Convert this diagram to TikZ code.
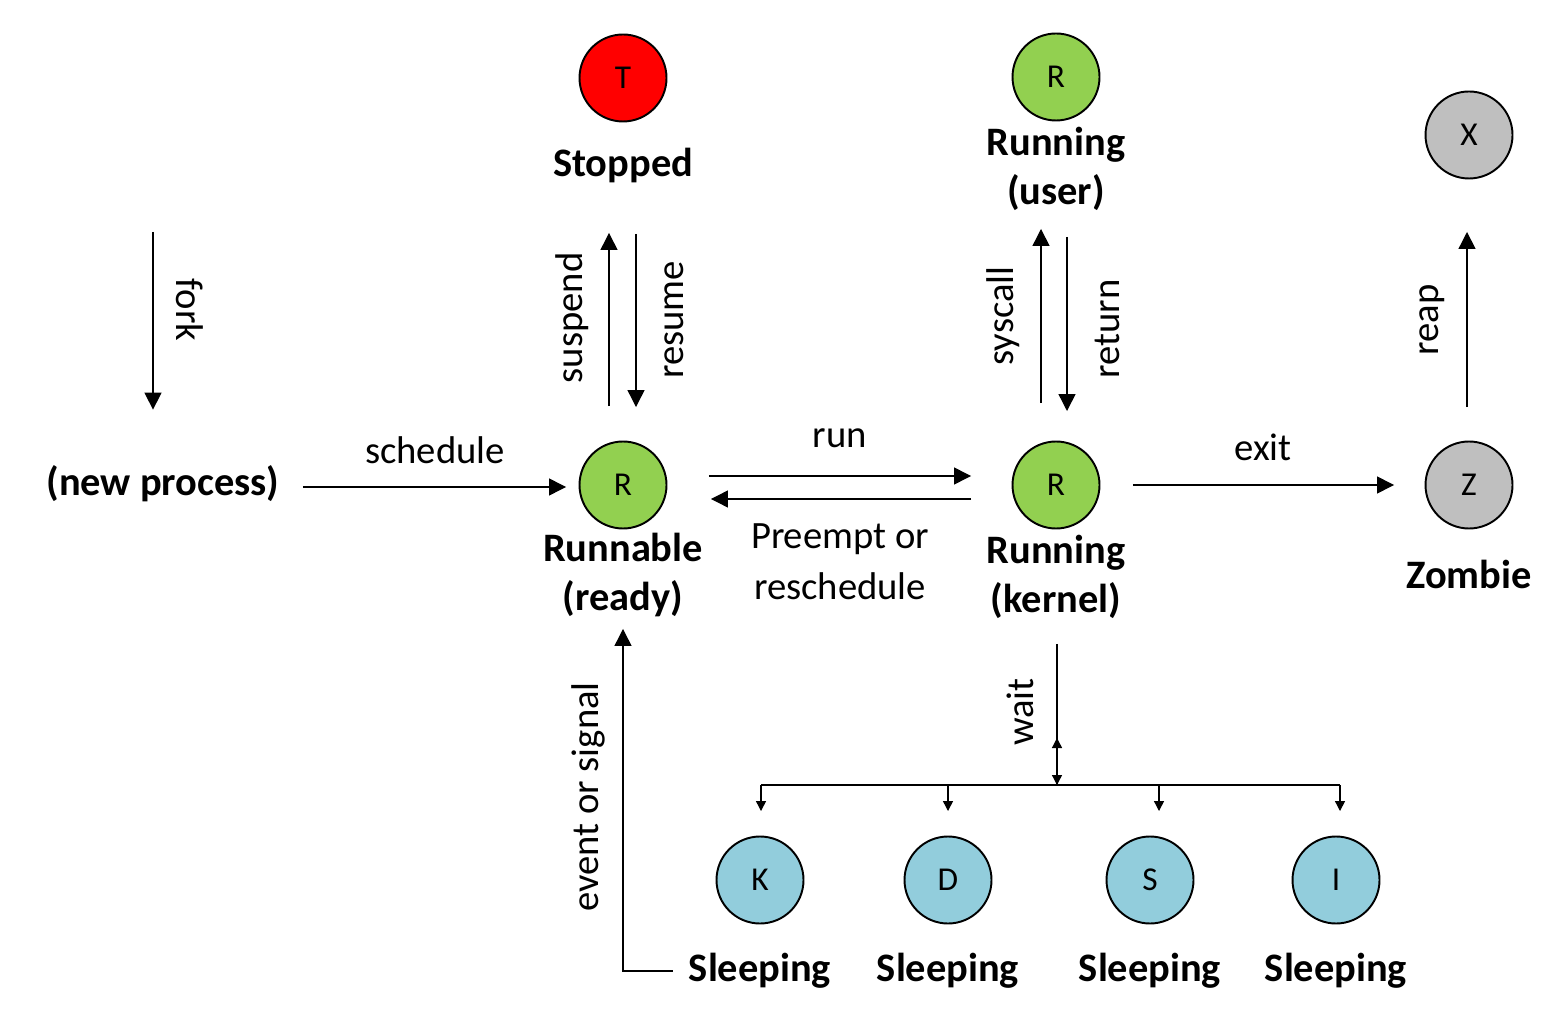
\documentclass[tikz,border=0pt]{standalone}
\usepackage{fontspec}
\setmainfont{Carlito}
\usepackage{tikz}
\usetikzlibrary{shapes.geometric, arrows.meta, positioning}
\definecolor{stopred}{HTML}{FF0000}
\definecolor{rungreen}{HTML}{92D050}
\definecolor{deadgrey}{HTML}{BFBFBF}
\definecolor{sleepblue}{HTML}{92CDDC}
\tikzstyle{state} = [circle, minimum size=1.74cm, inner sep=0pt, draw=black, line width=1.1pt, font=\fontsize{19}{23}\selectfont]
\tikzstyle{redstate} = [state, fill=stopred]
\tikzstyle{greenstate} = [state, fill=rungreen]
\tikzstyle{greystate} = [state, fill=deadgrey]
\tikzstyle{bluestate} = [state, fill=sleepblue]
\tikzstyle{statelabel} = [align=center, font=\fontsize{23}{27.5}\selectfont\bfseries]
\tikzstyle{edgelabel} = [align=center, font=\fontsize{22}{29}\selectfont]
\tikzstyle{wire} = [line width=0.75pt]
\tikzstyle{arrow} = [wire, -{Triangle[length=0.34cm, width=0.34cm]}]
\tikzstyle{smallarrow} = [wire, -{Triangle[length=0.2cm, width=0.2cm]}]

\begin{document}
\begin{tikzpicture}[node distance=1.80cm]
\useasboundingbox (0,0) rectangle (31.36,20.46);
\node (readyR) [greenstate] at (12.46,10.76) {R};
\node (kernR) [greenstate, right of=readyR, node distance=8.66cm] {R};
\node (zombZ) [greystate, right of=kernR, node distance=8.26cm] {Z};
\node (stopT) [redstate, above of=readyR, node distance=8.14cm] {T};
\node (userR) [greenstate, above of=kernR, node distance=8.16cm] {R};
\node (deadX) [greystate, above of=zombZ, node distance=7.0cm] {X};
\node (sleepK) [bluestate] at (15.20,2.86) {K};
\node (sleepD) [bluestate, right of=sleepK, node distance=3.76cm] {D};
\node (sleepS) [bluestate, right of=sleepD, node distance=4.04cm] {S};
\node (sleepI) [bluestate, right of=sleepS, node distance=3.72cm] {I};

\node (newproc) [statelabel] at (3.26,10.78) {(new process)};
\node (lblReady) [statelabel, below of=readyR] {Runnable\\(ready)};
\node (lblKern) [statelabel, below of=kernR, node distance=1.84cm] {Running\\(kernel)};
\node (lblZombie) [statelabel, below of=zombZ, node distance=1.78cm] {Zombie};
\node (lblStopped) [statelabel, below of=stopT, node distance=1.76cm] {Stopped};
\node (lblUser) [statelabel, below of=userR, node distance=1.84cm] {Running\\(user)};
\node (lblSleepK) [statelabel, below of=sleepK, node distance=1.82cm] {Sleeping};
\node (lblSleepD) [statelabel, below of=sleepD, node distance=1.82cm] {Sleeping};
\node (lblSleepS) [statelabel, below of=sleepS, node distance=1.82cm] {Sleeping};
\node (lblSleepI) [statelabel, below of=sleepI, node distance=1.82cm] {Sleeping};

\coordinate (forktop) at (3.06,15.82);
\coordinate (bus) at (21.14,4.76);

\draw [arrow, shorten >=1.0cm] (forktop) -- (forktop |- newproc.north);
\draw [arrow, shorten <=0.34cm, shorten >=0.25cm] (newproc.east |- 0,10.72) -- (readyR.west |- 0,10.72);
\draw [arrow, shorten <=0.69cm, shorten >=2.21cm] ([xshift=-0.28cm]readyR.north) -- ([xshift=-0.28cm]stopT.south);
\draw [arrow, shorten <=2.23cm, shorten >=0.67cm] ([xshift=0.26cm]stopT.south) -- ([xshift=0.26cm]readyR.north);
\draw [arrow, shorten <=0.83cm, shorten >=0.81cm] ([yshift=0.18cm]readyR.east) -- ([yshift=0.18cm]kernR.west);
\draw [arrow, shorten <=0.81cm, shorten >=0.87cm] ([yshift=-0.28cm]kernR.west) -- ([yshift=-0.28cm]readyR.east);
\draw [arrow, shorten <=0.75cm, shorten >=2.15cm] ([xshift=-0.30cm]kernR.north) -- ([xshift=-0.30cm]userR.south);
\draw [arrow, shorten <=2.31cm, shorten >=0.59cm] ([xshift=0.22cm]userR.south) -- ([xshift=0.22cm]kernR.north);
\draw [arrow, shorten <=0.65cm, shorten >=0.61cm] (kernR.east) -- (zombZ.west);
\draw [arrow, shorten <=0.67cm, shorten >=1.05cm] ([xshift=-0.04cm]zombZ.north) -- ([xshift=-0.04cm]deadX.south);
\draw [smallarrow, shorten <=2.29cm] (kernR.south -| bus) -- (bus);
\draw [smallarrow] (bus) -- ++(0,0.94);
\draw [wire] ([xshift=0.02cm]sleepK |- bus) -- ([xshift=0.08cm]sleepI |- bus);
\foreach \s/\dx in {sleepK/0.02, sleepD/0, sleepS/0.18, sleepI/0.08}
  \draw [smallarrow, shorten >=0.49cm] ([xshift=\dx cm]\s |- bus) -- ([xshift=\dx cm]\s.north);
\draw [arrow, shorten >=1.99cm] ([xshift=-0.2cm]lblSleepK.west) -| (readyR.south);

\node (lblFork) [edgelabel, rotate=-90] at (3.80,14.26) {fork};
\node (lblSchedule) [edgelabel] at (8.70,11.46) {schedule};
\node (lblSuspend) [edgelabel, rotate=90] at (11.44,14.10) {suspend};
\node (lblResume) [edgelabel, rotate=90] at (13.48,14.06) {resume};
\node (lblRun) [edgelabel] at (16.80,11.70) {run};
\node (lblPreempt) [edgelabel] at (16.80,9.22) {Preempt or\\reschedule};
\node (lblSyscall) [edgelabel, rotate=90] at (20.06,14.14) {syscall};
\node (lblReturn) [edgelabel, rotate=90] at (22.14,13.88) {return};
\node (lblExit) [edgelabel] at (25.26,11.52) {exit};
\node (lblReap) [edgelabel, rotate=90] at (28.64,14.06) {reap};
\node (lblWait) [edgelabel, rotate=90] at (20.40,6.22) {wait};
\node (lblEvent) [edgelabel, rotate=90] at (11.76,4.52) {event or signal};
\end{tikzpicture}
\end{document}
